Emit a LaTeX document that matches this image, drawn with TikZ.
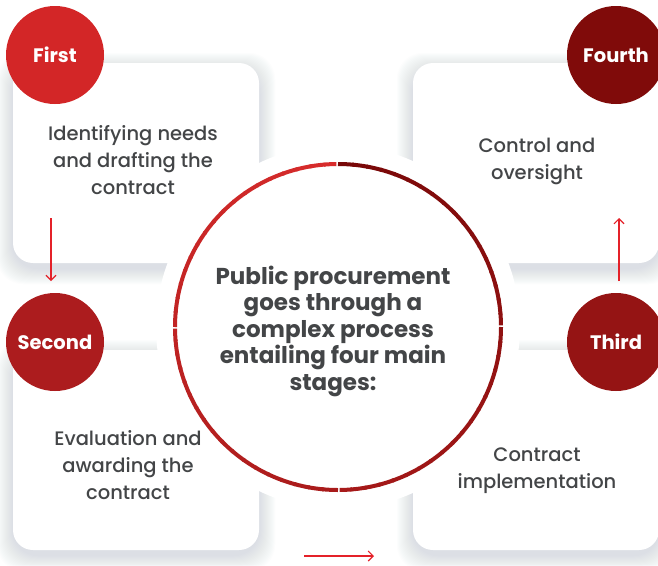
\documentclass[tikz,border=0pt]{standalone}
\usepackage{fontspec}
\setmainfont{Poppins}[UprightFont={* Medium}, BoldFont={* Bold}]
\usetikzlibrary{arrows.meta, positioning}
\definecolor{StageOne}{HTML}{D32627}
\definecolor{StageTwo}{HTML}{AC1C1E}
\definecolor{StageThree}{HTML}{951414}
\definecolor{StageFour}{HTML}{800B0A}
\definecolor{RingLight}{HTML}{D82C2C}
\definecolor{RingDark}{HTML}{780808}
\definecolor{CardShadow}{HTML}{AEBBC8}
\definecolor{BodyGrey}{HTML}{434547}
\definecolor{ArrowRed}{HTML}{E42129}

\tikzset{
  badge/.style={circle, minimum size=98pt, inner sep=0pt, text=white,
    font=\bfseries\fontsize{19.5}{22}\selectfont},
  cardtext/.style={align=center, text=BodyGrey, font=\fontsize{19.5}{27}\selectfont},
  flow/.style={ArrowRed, line width=1.1pt, -{Straight Barb[length=5pt, width=10pt]}},
}

\begin{document}
\begin{tikzpicture}[x=1pt, y=-1pt]
  \useasboundingbox (0,0) rectangle (658,565);
  \fill[white] (0,0) rectangle (658,565);

  % cards with a soft shadow
  \foreach \cx/\cy in {13/63, 13/350, 413/63, 413/350} {
    \foreach \k in {1,...,16}
      \fill[CardShadow, opacity=0.028, rounded corners=26pt]
        (\cx-\k, \cy-\k+6) rectangle (\cx+246+\k, \cy+200+\k+5);
    \fill[white, rounded corners=20pt] (\cx,\cy) rectangle (\cx+246,\cy+200);
  }

  % central ring
  \coordinate (core) at (338,327);
  \fill[white] (core) circle[radius=182];
  \foreach \i in {0,...,71} {
    \pgfmathtruncatemacro\p{100*\i/71}
    \pgfmathsetmacro\e{mod(\i+1,18)==0 ? 5*\i-85.6 : 5*\i-84.4}
    \draw[RingLight!\p!RingDark, line width=4pt]
      (core) ++(5*\i-90:163) arc[start angle=5*\i-90, end angle=\e, radius=163];
  }
  \node[align=center, text=BodyGrey, font=\bfseries\fontsize{23}{26.5}\selectfont]
    (hub) at (333,331) {Public procurement\\goes through a\\complex process\\entailing four main\\stages:};

  % stage texts
  \node[cardtext] (needs) at (133,160) {Identifying needs\\and drafting the\\contract};
  \node[cardtext] (award) at (128,465) {Evaluation and\\awarding the\\contract};
  \node[cardtext] (impl) at (537,471) {Contract\\implementation};
  \node[cardtext] (control) at (537,161) {Control and\\oversight};

  % stage badges
  \node[badge, fill=StageOne] (first) at (55,55) {First};
  \node[badge, fill=StageTwo] (second) at (55,342) {Second};
  \node[badge, fill=StageThree] (third) at (616,342) {Third};
  \node[badge, fill=StageFour] (fourth) at (616,55) {Fourth};

  % arrows between stages
  \coordinate (downtop) at (51,218);
  \coordinate (downend) at (51,281);
  \coordinate (acrossstart) at (304,556);
  \coordinate (acrossend) at (374,556);
  \coordinate (upstart) at (619,281);
  \coordinate (uptop) at (619,218);
  \draw[flow] (downtop) -- (downend);
  \draw[flow] (acrossstart) -- (acrossend);
  \draw[flow] (upstart) -- (uptop);
\end{tikzpicture}
\end{document}
